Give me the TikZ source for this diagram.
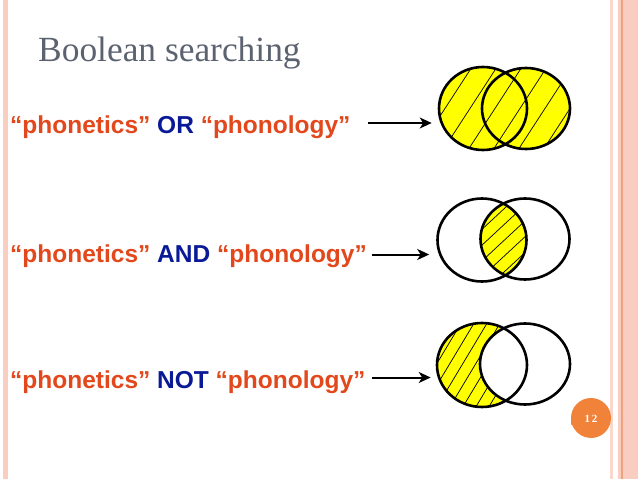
\documentclass[tikz,border=0pt]{standalone}
\usepackage{fontspec}
\setmainfont{Liberation Serif}
\newfontfamily\arialf{Liberation Sans}
\usetikzlibrary{arrows.meta,shapes.geometric}
\definecolor{txtorange}{HTML}{E2481C}
\definecolor{txtblue}{HTML}{0A1A96}
\definecolor{titlegrey}{HTML}{5C6370}
\definecolor{vennyellow}{HTML}{FFFF00}
\definecolor{borderpink}{HTML}{F9CDBF}
\definecolor{borderline}{HTML}{EFA27F}
\definecolor{badge}{HTML}{F0823A}
\tikzset{
  label text/.style={anchor=base west, inner sep=0pt, font=\arialf\bfseries\fontsize{24.5}{26}\selectfont, text=txtorange},
  venncircle/.style={ellipse, draw=black, line width=2.6pt, inner sep=0pt, minimum width=88pt, minimum height=83pt},
  hatchline/.style={black, line width=0.7pt},
  connector/.style={-{Stealth[length=12pt,width=11pt,inset=3.5pt]}, line width=2pt}
}
\begin{document}
\begin{tikzpicture}[x=1pt,y=-1pt]
\useasboundingbox (0,0) rectangle (638,479);
\fill[white] (0,0) rectangle (638,479);
% borders
\fill[borderpink] (3,0) rectangle (7.5,479);
\fill[borderpink!80] (610,0) rectangle (612.5,479);
\fill[borderpink] (618,0) rectangle (638,479);
\fill[borderline] (621,0) rectangle (622.5,479);
% title
\node[anchor=base west, inner sep=0pt, font=\fontsize{35.4}{38}\selectfont, text=titlegrey] (title) at (38,61) {Boolean searching};
% labels
\node[label text] (t1) at (10,133) {“phonetics” \textcolor{txtblue}{OR} “phonology”};
\node[label text] (t2) at (10,262) {“phonetics” \textcolor{txtblue}{AND} “phonology”};
\node[label text] (t3) at (10,388) {“phonetics” \textcolor{txtblue}{NOT} “phonology”};
% ---------- Venn 1 : OR ----------
\fill[vennyellow] (483,108.5) ellipse [x radius=44, y radius=41.5];
\fill[vennyellow] (526,108.5) ellipse [x radius=44, y radius=40.5];
\begin{scope}
  \clip (483,108.5) ellipse [x radius=44, y radius=41.5] (526,108.5) ellipse [x radius=44, y radius=40.5];
  \foreach \i in {-4,...,6} \draw[hatchline] (380+\i*25,170) -- ++(78,-120);
\end{scope}
\node[venncircle] (v1l) at (483,108.5) {};
\node[venncircle, minimum height=81pt] (v1r) at (526,108.5) {};
% ---------- Venn 2 : AND ----------
\begin{scope}
  \clip (482,240) ellipse [x radius=44.5, y radius=41.5];
  \fill[vennyellow] (525,239) ellipse [x radius=44.5, y radius=40.5];
  \clip (525,239) ellipse [x radius=44.5, y radius=40.5];
  \foreach \i in {-6,...,6} \draw[hatchline] (440+\i*17,300) -- ++(129,-120);
\end{scope}
\node[venncircle, minimum width=89pt] (v2l) at (482,240) {};
\node[venncircle, minimum width=89pt, minimum height=81pt] (v2r) at (525,239) {};
% ---------- Venn 3 : NOT ----------
\begin{scope}
  \clip (482,365) ellipse [x radius=45, y radius=42];
  \fill[vennyellow] (482,365) ellipse [x radius=45, y radius=42];
  \foreach \i in {-6,...,10} \draw[hatchline] (400+\i*13,425) -- ++(72,-120);
\end{scope}
\fill[white] (525,364) ellipse [x radius=45, y radius=40.5];
\node[venncircle, minimum width=90pt, minimum height=84pt] (v3l) at (482,365) {};
\node[venncircle, minimum width=90pt, minimum height=81pt] (v3r) at (525,364) {};
% connectors
\coordinate (a1) at (368,123);
\coordinate (a2) at (372,254.5);
\coordinate (a3) at (372,377.5);
\draw[connector, shorten >=6pt] (a1) -- (a1 -| v1l.west);
\draw[connector, shorten >=7pt] (a2) -- (a2 -| v2l.west);
\draw[connector, shorten >=5pt] (a3) -- (a3 -| v3l.west);
% page badge
\fill[badge] (591,418) ++(-20,0) arc[start angle=180, end angle=510, radius=20] -- (572,424.5) -- (571,424.5) -- cycle;
\node[text=white, font=\bfseries\fontsize{11}{12}\selectfont, inner sep=0pt] (pg) at (591,418.5) {1\,2};
\end{tikzpicture}
\end{document}
